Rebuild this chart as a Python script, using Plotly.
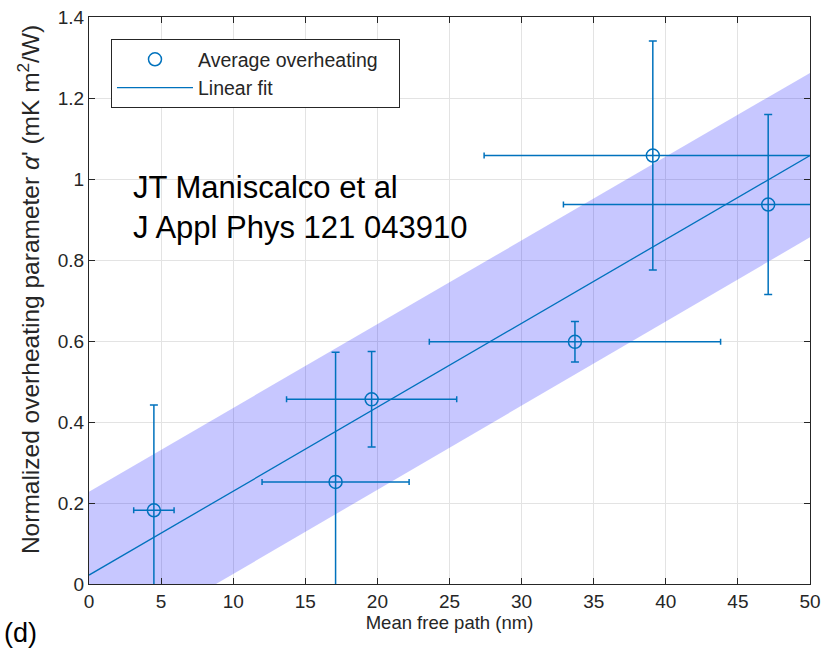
import plotly.graph_objects as go

# Data
mfp = [4.5, 17.1, 19.6, 33.7, 39.1, 47.1]
mfp_err = [1.4, 5.1, 5.9, 10.1, 11.7, 14.2]
alpha = [0.182, 0.252, 0.456, 0.598, 1.058, 0.937]
alpha_err = [0.26, 0.32, 0.118, 0.05, 0.283, 0.222]

fit_x = [0, 50]
fit_y = [0.022, 1.058]
band_lower = [-0.183, 0.856]
band_upper = [0.228, 1.262]

x_ticks = [0, 5, 10, 15, 20, 25, 30, 35, 40, 45, 50]
y_ticks = [0, 0.2, 0.4, 0.6, 0.8, 1, 1.2, 1.4]

BLUE = "#0072BD"
FONT = "Liberation Sans, Arial, sans-serif"
NB = "\u00a0"

fig = go.Figure()

fig.add_trace(go.Scatter(x=fit_x, y=band_lower, mode="lines", line=dict(width=0),
                         showlegend=False, hoverinfo="skip"))
fig.add_trace(go.Scatter(x=fit_x, y=band_upper, mode="lines", line=dict(width=0),
                         fill="tonexty", fillcolor="rgba(0,0,255,0.22)",
                         showlegend=False, hoverinfo="skip"))

fig.add_trace(go.Scatter(
    x=mfp, y=alpha, mode="markers", name="Average overheating" + NB * 3,
    marker=dict(symbol="circle-open", size=13, color=BLUE, line=dict(width=1.5, color=BLUE)),
    error_x=dict(type="data", array=mfp_err, color=BLUE, thickness=1.5, width=3),
    error_y=dict(type="data", array=alpha_err, color=BLUE, thickness=1.5, width=4),
))
fig.add_trace(go.Scatter(x=fit_x, y=fit_y, mode="lines", name="Linear fit",
                         line=dict(color=BLUE, width=1.3)))

axis_common = dict(
    showline=True, linecolor="#262626", linewidth=1, mirror="ticks",
    ticks="inside", ticklen=6, tickcolor="#262626",
    showgrid=True, gridcolor="#e3e3e3", gridwidth=1, zeroline=False,
    tickfont=dict(family=FONT, size=19, color="#262626"),
    automargin=False,
)

fig.update_xaxes(range=[0, 50], tickvals=x_ticks, **axis_common,
                 title=dict(text="Mean free path (nm)", font=dict(family=FONT, size=18.5, color="#262626"),
                            standoff=4))
fig.update_yaxes(range=[0, 1.4], tickvals=y_ticks, **axis_common)

# y-axis title placed as rotated annotation to match reference position
fig.add_annotation(x=-0.0845, y=0.5185, xref="paper", yref="paper", xanchor="center", yanchor="middle",
                   text="Normalized overheating parameter <i>α</i>' (mK m<sup>2</sup>/W)",
                   textangle=-90, showarrow=False,
                   font=dict(family=FONT, size=24.5, color="#262626"))

fig.add_annotation(x=2.9, y=0.98, xref="x", yref="y", xanchor="left", yanchor="middle",
                   text="JT Maniscalco et al", showarrow=False,
                   font=dict(family=FONT, size=31, color="black"))
fig.add_annotation(x=2.9, y=0.88, xref="x", yref="y", xanchor="left", yanchor="middle",
                   text="J Appl Phys 121 043910", showarrow=False,
                   font=dict(family=FONT, size=31, color="black"))
fig.add_annotation(x=-0.121, y=-0.086, xref="paper", yref="paper", xanchor="left", yanchor="middle",
                   text="(d)", showarrow=False,
                   font=dict(family=FONT, size=27, color="black"))

fig.update_layout(
    width=825, height=656,
    margin=dict(l=89, r=15, t=17, b=72),
    paper_bgcolor="white", plot_bgcolor="white",
    showlegend=True,
    legend=dict(x=0.0305, y=0.961, xanchor="left", yanchor="top",
                bordercolor="#262626", borderwidth=1, bgcolor="white",
                font=dict(family=FONT, size=19.5, color="#262626"),
                traceorder="normal", tracegroupgap=0, itemwidth=76),
)

fig.write_html("out.html", config={"displayModeBar": False},
               post_script="document.body.style.margin='0';document.body.style.padding='0';")
